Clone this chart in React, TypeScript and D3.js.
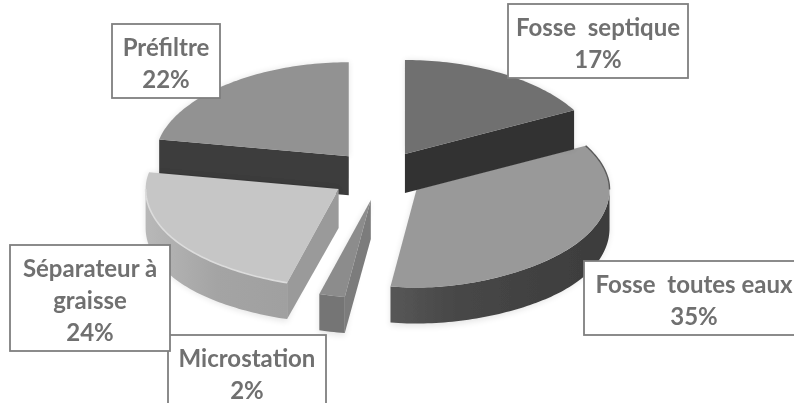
import React from "react";
import * as d3 from "d3";

// Share of each treatment type, clockwise from twelve o'clock.
const categories = ["Fosse septique", "Fosse toutes eaux", "Microstation", "Séparateur à graisse", "Préfiltre"];
const shares = [17, 35, 2, 24, 22];
const labelLines = [["Fosse  septique"], ["Fosse  toutes eaux"], ["Microstation"], ["Séparateur à", "graisse"], ["Préfiltre"]];
const topColors = ["#707070", "#999999", "#8c8c8c", "#c6c6c6", "#929292"];
const rimColors = ["#333333", "url(#rimDark)", "#747474", "url(#rimLight)", "#3c3c3c"];
const faceColors = ["#333333", "#444444", "#7c7c7c", "#9a9a9a", "#3c3c3c"];
const labelBoxes = [
  { x: 508, y: 4, w: 180, h: 74 },
  { x: 584, y: 261, w: 220, h: 74 },
  { x: 168, y: 335, w: 158, h: 90 },
  { x: 10, y: 245, w: 160, h: 106 },
  { x: 112, y: 24, w: 108, h: 74 },
];
const drawOrder = [4, 1, 0, 3, 2];
const sideways = [0, -4, 0, 0, 0];

const width = 794;
const height = 403;
const cx = 380;
const cy = 175.5;
const explodeX = 49;
const explodeY = 25;
const depth = 39;

type Pt = [number, number];

// Projects a pie-plane direction onto the tilted disc; the front swells slightly.
const project = (a: number): Pt => {
  const u = Math.sin(a);
  const v = -Math.cos(a);
  const front = Math.max(0, v);
  const rx = 193 + 15 * front ** 2;
  const ry = 88 + 6 * Math.abs(v) + 4 * front ** 8;
  return [u * rx, v * ry];
};

// Wall height along the disc edge, a little shorter at the very front.
const wall = (a: number): number => depth - 3 * Math.max(0, -Math.cos(a)) ** 4;

const line = d3.line<Pt>();
const arcs = d3.pie<number>().sort(null)(shares);

const sample = (a0: number, a1: number): number[] => {
  const n = Math.max(2, Math.ceil(Math.abs(a1 - a0) / 0.02));
  return d3.range(n + 1).map((i) => a0 + ((a1 - a0) * i) / n);
};

export default function App() {
  const slices = arcs.map((d, i) => {
    const mid = (d.startAngle + d.endAngle) / 2;
    const ox = cx + explodeX * Math.sin(mid) + sideways[i];
    const oy = cy - explodeY * Math.cos(mid);
    const at = (a: number): Pt => {
      const [x, y] = project(a);
      return [ox + x, oy + y];
    };
    const down = (a: number): Pt => {
      const [x, y] = at(a);
      return [x, y + wall(a)];
    };
    const angles = sample(d.startAngle, d.endAngle);
    const top = [[ox, oy] as Pt, ...angles.map(at)];

    // The rim shows only where the outer edge faces the viewer.
    const lo = Math.max(d.startAngle, Math.PI / 2);
    const hi = Math.min(d.endAngle, (3 * Math.PI) / 2);
    const rimAngles = lo < hi ? sample(lo, hi) : [];
    const rimTop = rimAngles.map(at);
    const rim = rimAngles.length ? [...rimTop, ...rimAngles.slice().reverse().map(down)] : [];

    // Cut faces toward the viewer: end edge on the right half, start edge on the left.
    const faces: Pt[][] = [];
    if (d.endAngle < Math.PI) {
      faces.push([[ox, oy], at(d.endAngle), down(d.endAngle), [ox, oy + depth]]);
    }
    if (d.startAngle > Math.PI) {
      faces.push([[ox, oy], at(d.startAngle), down(d.startAngle), [ox, oy + depth]]);
    }
    const shoulder = d.startAngle < Math.PI / 2 && d.endAngle > Math.PI / 2 ? sample(d.startAngle, Math.PI / 2).map(at) : [];
    return { i, top, rim, faces, rimTop, shoulder };
  });

  return (
    <svg
      width={width}
      height={height}
      viewBox={`0 0 ${width} ${height}`}
      style={{ position: "absolute", left: 0, top: 0 }}
      fontFamily="Lato, 'Open Sans', sans-serif"
    >
      <defs>
        <filter id="shade" x="-10%" y="-10%" width="120%" height="120%">
          <feGaussianBlur stdDeviation="3" />
        </filter>
        <filter id="soft" x="-5%" y="-5%" width="110%" height="110%">
          <feGaussianBlur stdDeviation="0.6" />
        </filter>
        <linearGradient id="rimLight" x1="0" x2="1" y1="0" y2="0">
          <stop offset="0" stopColor="#b8b8b8" />
          <stop offset="0.5" stopColor="#a4a4a4" />
          <stop offset="1" stopColor="#a0a0a0" />
        </linearGradient>
        <linearGradient id="rimDark" x1="0" x2="1" y1="0" y2="0">
          <stop offset="0" stopColor="#575757" />
          <stop offset="0.3" stopColor="#474747" />
          <stop offset="1" stopColor="#3c3c3c" />
        </linearGradient>
      </defs>
      <rect width={width} height={height} fill="#ffffff" />
      <g filter="url(#soft)">
        {drawOrder.map((i) => {
          const s = slices[i];
          const outline = [...s.top, ...s.top.slice(1).map(([x, y]) => [x, y + depth] as Pt)];
          return (
            <g key={categories[i]}>
              <path d={line(d3.polygonHull(outline) ?? outline) ?? ""} fill="#000" opacity={0.1} filter="url(#shade)" />
              {s.faces.map((f, k) => (
                <path key={k} d={`${line(f)}Z`} fill={faceColors[i]} />
              ))}
              {s.rim.length > 0 && <path d={`${line(s.rim)}Z`} fill={rimColors[i]} />}
              <path d={`${line(s.top)}Z`} fill={topColors[i]} />
              {s.shoulder.length > 0 && <path d={line(s.shoulder) ?? ""} fill="none" stroke="#5a5a5a" strokeWidth={1.4} />}
              {i === 3 && <path d={line(s.rimTop) ?? ""} fill="none" stroke="#dcdcdc" strokeWidth={1.6} />}
            </g>
          );
        })}
      </g>
      {labelBoxes.map((b, i) => {
        const lines = [...labelLines[i], `${shares[i]}%`];
        return (
          <g key={categories[i]}>
            <rect x={b.x} y={b.y} width={b.w} height={b.h} fill="#ffffff" stroke="#7f7f7f" strokeWidth={1.8} />
            {lines.map((t, k) => (
              <text
                key={k}
                x={b.x + b.w / 2}
                y={b.y + 32 + k * 32}
                textAnchor="middle"
                fontSize={24}
                fontWeight={700}
                fill="#707070"
                style={{ whiteSpace: "pre" }}
              >
                {t}
              </text>
            ))}
          </g>
        );
      })}
    </svg>
  );
}
